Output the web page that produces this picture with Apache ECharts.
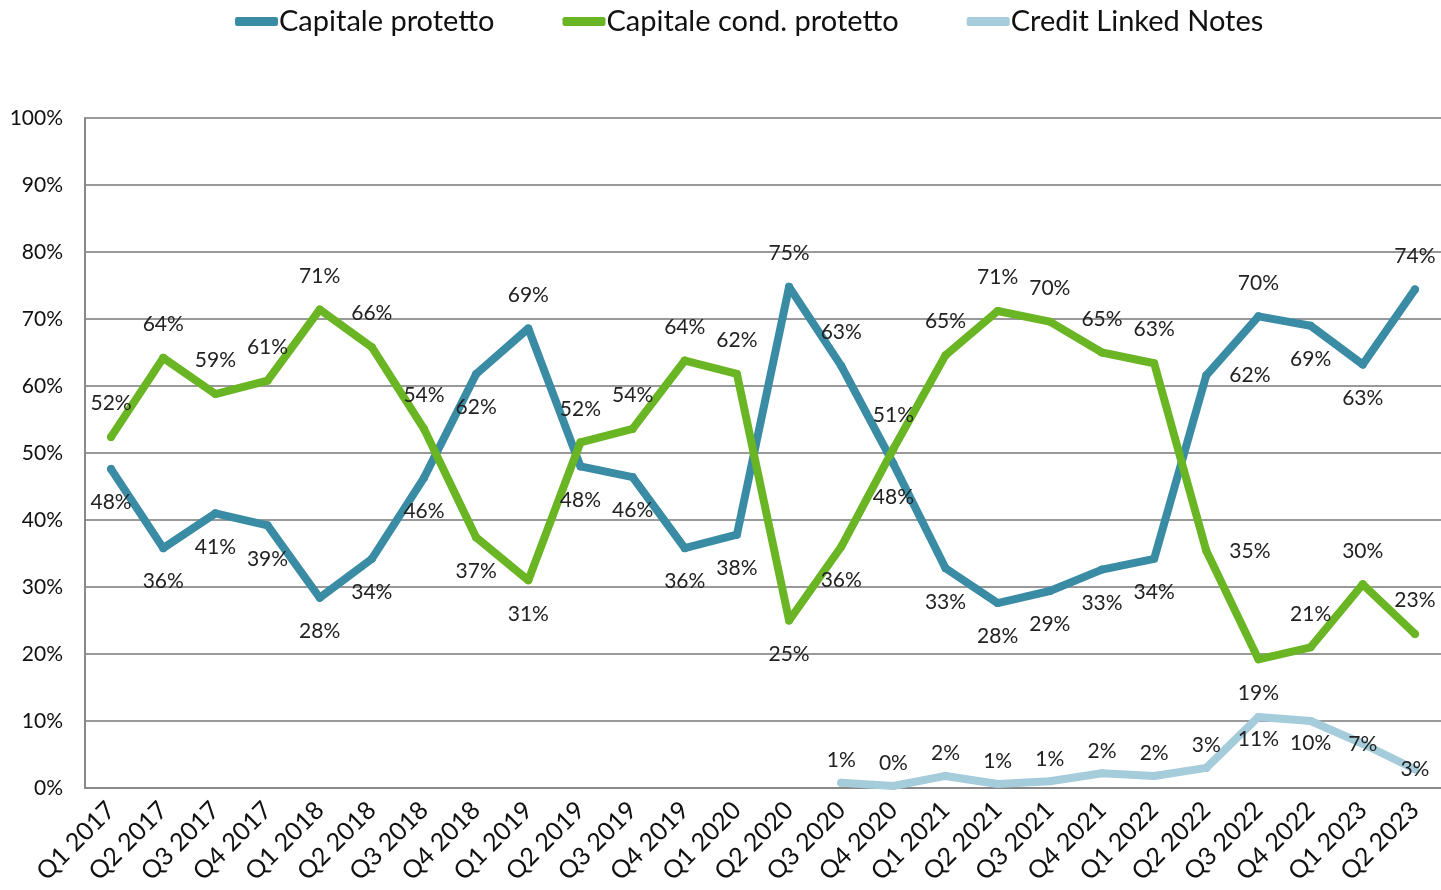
<!DOCTYPE html>
<html>
<head>
<meta charset="utf-8">
<script src="https://cdn.jsdelivr.net/npm/echarts@6/dist/echarts.min.js"></script>
<style>
  html, body { margin: 0; padding: 0; background: #fff; }
  #chart { width: 1441px; height: 890px; }
</style>
</head>
<body>
<div id="chart"></div>
<script>
const categories = [
  "Q1 2017", "Q2 2017", "Q3 2017", "Q4 2017",
  "Q1 2018", "Q2 2018", "Q3 2018", "Q4 2018",
  "Q1 2019", "Q2 2019", "Q3 2019", "Q4 2019",
  "Q1 2020", "Q2 2020", "Q3 2020", "Q4 2020",
  "Q1 2021", "Q2 2021", "Q3 2021", "Q4 2021",
  "Q1 2022", "Q2 2022", "Q3 2022", "Q4 2022",
  "Q1 2023", "Q2 2023"
];
const capitaleProtetto = [
  47.6, 35.8, 41.0, 39.2, 28.4, 34.2, 46.3, 61.8, 68.6, 48.0, 46.4, 35.8, 37.8,
  74.8, 63.0, 48.4, 32.8, 27.6, 29.4, 32.6, 34.2, 61.6, 70.4, 69.0, 63.2, 74.4
];
const capitaleCondProtetto = [
  52.4, 64.2, 58.8, 60.8, 71.4, 65.8, 53.6, 37.4, 31.0, 51.6, 53.6, 63.8, 61.8,
  25.0, 36.0, 50.6, 64.6, 71.2, 69.6, 65.0, 63.4, 35.4, 19.2, 21.0, 30.4, 23.0
];
const creditLinkedNotes = [
  null, null, null, null, null, null, null, null, null, null, null, null, null,
  null, 0.8, 0.3, 1.8, 0.6, 1.0, 2.2, 1.8, 3.0, 10.6, 10.0, 6.6, 2.8
];
const yTicks = [0, 10, 20, 30, 40, 50, 60, 70, 80, 90, 100];

const colors = ["#3A8CA4", "#6AB523", "#A5CCDA"];
const font = "Lato, 'Open Sans', sans-serif";

// posizione delle etichette: di norma sopra la linea più alta, sotto quella più bassa
const cpLabelFix = { 7: "bottom", 21: "right", 23: "bottom", 24: "bottom" };
const ccpLabelFix = { 21: "right", 23: "top", 24: "top", 25: "top" };
const clnLabelFix = { 22: "bottom", 23: "bottom", 24: "inside", 25: "inside" };

function labelled(values, other, fix) {
  return values.map((v, i) => ({
    value: v,
    label: { position: fix[i] || (v >= other[i] ? "top" : "bottom") }
  }));
}

const labelStyle = {
  show: true,
  formatter: p => Math.round(p.value) + "%",
  color: "#222",
  fontSize: 21,
  fontFamily: font,
  distance: 19
};

const lineBase = {
  type: "line",
  symbol: "circle",
  symbolSize: 8,
  lineStyle: { width: 8, cap: "round", join: "round" },
  emphasis: { disabled: true }
};

const chart = echarts.init(document.getElementById("chart"));
chart.setOption({
  animation: false,
  color: colors,
  legend: {
    top: 2,
    left: 230,
    icon: "roundRect",
    itemWidth: 43,
    itemHeight: 9,
    itemGap: 68,
    textStyle: { fontSize: 29, fontFamily: font, color: "#111", padding: [0, 0, 0, -4] },
    data: ["Capitale protetto", "Capitale cond. protetto", "Credit Linked Notes"]
  },
  grid: { left: 85, right: 0, top: 118, bottom: 102, containLabel: false },
  xAxis: {
    type: "category",
    data: categories,
    boundaryGap: true,
    axisLine: { lineStyle: { color: "#888", width: 2 } },
    axisTick: { show: false },
    axisLabel: {
      rotate: 45,
      interval: 0,
      fontSize: 25,
      fontFamily: font,
      color: "#111",
      margin: 18
    }
  },
  yAxis: {
    type: "value",
    min: yTicks[0],
    max: yTicks[yTicks.length - 1],
    interval: 10,
    axisLine: { show: true, lineStyle: { color: "#888", width: 2 } },
    axisTick: { show: false },
    splitLine: { lineStyle: { color: "#999", width: 2 } },
    axisLabel: {
      formatter: "{value}%",
      fontSize: 21,
      fontFamily: font,
      color: "#111",
      margin: 22
    }
  },
  series: [
    Object.assign({}, lineBase, {
      name: "Capitale protetto",
      data: labelled(capitaleProtetto, capitaleCondProtetto, cpLabelFix),
      label: labelStyle
    }),
    Object.assign({}, lineBase, {
      name: "Capitale cond. protetto",
      data: labelled(capitaleCondProtetto, capitaleProtetto, ccpLabelFix),
      label: labelStyle
    }),
    Object.assign({}, lineBase, {
      name: "Credit Linked Notes",
      data: creditLinkedNotes.map((v, i) => ({
        value: v,
        label: { position: clnLabelFix[i] || "top" }
      })),
      label: Object.assign({}, labelStyle, { distance: 8 })
    })
  ]
});
window.addEventListener("resize", () => chart.resize());
</script>
</body>
</html>
